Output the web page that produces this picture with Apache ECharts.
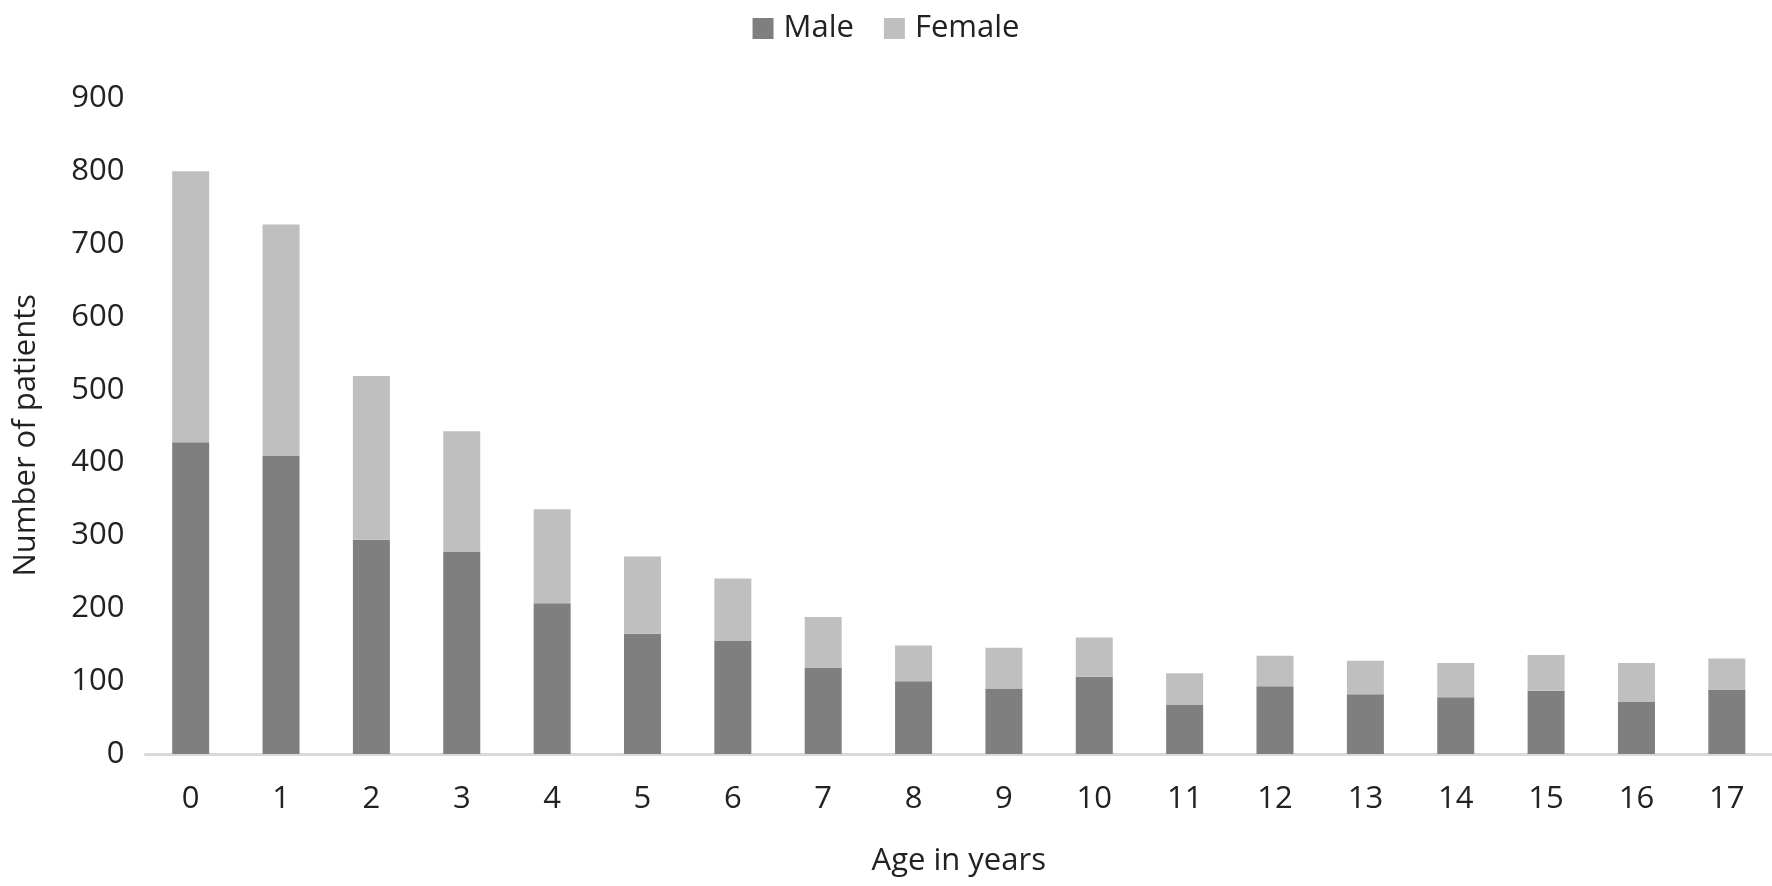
<!DOCTYPE html>
<html>
<head>
<meta charset="utf-8">
<script src="https://cdn.jsdelivr.net/npm/echarts@6/dist/echarts.min.js"></script>
<style>
html,body{margin:0;padding:0;background:#fff;}
#chart{width:1772px;height:886px;}
</style>
</head>
<body>
<div id="chart"></div>
<script>
const ages = ['0','1','2','3','4','5','6','7','8','9','10','11','12','13','14','15','16','17'];
const male = [428,409,294,278,207,165,155,118,100,90,106,68,93,82,78,87,72,88];
const female = [372,318,225,165,129,106,86,70,49,56,54,43,42,46,47,49,53,43];
const seriesNames = ['Male','Female'];
const yTicks = {min:0, max:900, interval:100};

const FONT = 'Open Sans';
const TXT = '#222222';
const chart = echarts.init(document.getElementById('chart'));
chart.setOption({
  animation:false,
  textStyle:{fontFamily:FONT},
  color:['#7f7f7f','#bfbfbf'],
  legend:{
    top:8, left:'center',
    itemWidth:21, itemHeight:21, itemGap:30,
    icon:'rect',
    textStyle:{fontFamily:FONT, fontSize:31, color:TXT, padding:[0,0,0,5]},
    data:seriesNames
  },
  grid:{left:145.5, right:0, top:98.5, bottom:132, containLabel:false},
  xAxis:{
    type:'category', data:ages,
    name:'Age in years', nameLocation:'middle', nameGap:92,
    nameTextStyle:{fontFamily:FONT, fontSize:31, color:TXT, lineHeight:31},
    axisLine:{lineStyle:{color:'#d9d9d9', width:3}},
    axisTick:{show:false},
    axisLabel:{fontFamily:FONT, fontSize:31, color:TXT, margin:30}
  },
  yAxis:{
    type:'value', min:yTicks.min, max:yTicks.max, interval:yTicks.interval,
    name:'Number of patients', nameLocation:'middle', nameGap:104,
    nameTextStyle:{fontFamily:FONT, fontSize:31, color:TXT, padding:[0,18,0,0]},
    axisLine:{show:false}, axisTick:{show:false},
    splitLine:{show:false},
    axisLabel:{fontFamily:FONT, fontSize:31, color:TXT, margin:21}
  },
  series:[
    {name:seriesNames[0], type:'bar', stack:'t', data:male, barWidth:37},
    {name:seriesNames[1], type:'bar', stack:'t', data:female, barWidth:37}
  ]
});
</script>
</body>
</html>
